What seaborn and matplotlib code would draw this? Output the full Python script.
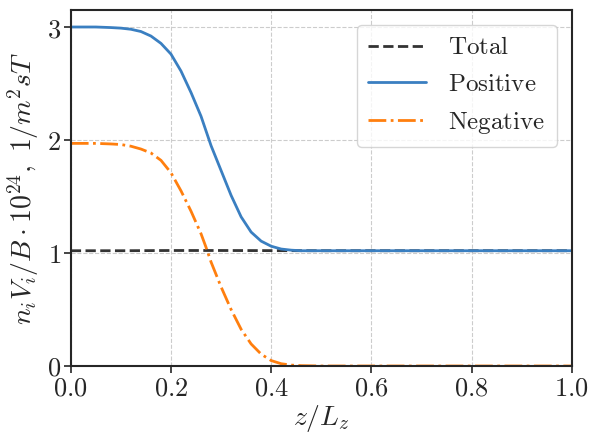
import matplotlib
matplotlib.use("Agg")
import matplotlib.pyplot as plt
import seaborn as sns
import pandas as pd
from matplotlib.ticker import FuncFormatter

# ---- data ----
x_total = [0.0, 0.1, 0.2, 0.3, 0.4, 0.5, 0.6, 0.7, 0.8, 0.9, 1.0]
total = [1.02, 1.02, 1.022, 1.022, 1.021, 1.02, 1.02, 1.02, 1.02, 1.02, 1.02]

x_pos = [0.00, 0.05, 0.08, 0.10, 0.12, 0.14, 0.16, 0.18, 0.20, 0.22, 0.24,
         0.26, 0.27, 0.28, 0.29, 0.30, 0.32, 0.34, 0.36, 0.38, 0.40, 0.42,
         0.44, 0.46, 0.50, 0.60, 0.70, 0.80, 0.90, 1.00]
positive = [3.00, 3.00, 2.995, 2.99, 2.98, 2.96, 2.92, 2.855, 2.76, 2.61,
            2.42, 2.21, 2.08, 1.95, 1.84, 1.73, 1.51, 1.32, 1.185, 1.105,
            1.06, 1.035, 1.025, 1.02, 1.02, 1.02, 1.02, 1.02, 1.02, 1.02]

x_neg = [0.00, 0.05, 0.08, 0.10, 0.12, 0.14, 0.16, 0.18, 0.20, 0.22, 0.24,
         0.26, 0.27, 0.28, 0.30, 0.32, 0.34, 0.36, 0.38, 0.40, 0.42, 0.44,
         0.46, 0.50, 0.60, 0.70, 0.80, 0.90, 1.00]
negative = [1.97, 1.97, 1.965, 1.96, 1.945, 1.92, 1.885, 1.82, 1.71, 1.55,
            1.37, 1.17, 1.05, 0.92, 0.70, 0.50, 0.325, 0.195, 0.105, 0.048,
            0.02, 0.008, 0.003, 0.0, 0.0, 0.0, 0.0, 0.0, 0.0]

labels = ["Total", "Positive", "Negative"]
x_ticks = [0.0, 0.2, 0.4, 0.6, 0.8, 1.0]
y_ticks = [0, 1, 2, 3]

sns.set_style("whitegrid", {
    "grid.linestyle": "--",
    "grid.color": "#cccccc",
    "axes.edgecolor": "#262626",
    "xtick.bottom": True,
    "ytick.left": True,
})
plt.rcParams["mathtext.fontset"] = "cm"
plt.rcParams["font.family"] = ["DejaVu Serif"]

fig = plt.figure(figsize=(5.9, 4.37), dpi=100)
ax = fig.add_axes([0.120, 0.1625, 0.849, 0.8145])

df_t = pd.DataFrame({"x": x_total, "y": total})
df_p = pd.DataFrame({"x": x_pos, "y": positive})
df_n = pd.DataFrame({"x": x_neg, "y": negative})

sns.lineplot(data=df_t, x="x", y="y", ax=ax, color="#333333", linestyle="--",
             linewidth=2, label=r"$\mathrm{%s}$" % labels[0])
sns.lineplot(data=df_p, x="x", y="y", ax=ax, color="#3a7fc1", linestyle="-",
             linewidth=2, label=r"$\mathrm{%s}$" % labels[1])
sns.lineplot(data=df_n, x="x", y="y", ax=ax, color="#ff7f0e", linestyle="-.",
             linewidth=2, label=r"$\mathrm{%s}$" % labels[2])

ax.set_xlim(0, 1)
ax.set_ylim(0, 3.15)
ax.set_xticks(x_ticks)
ax.set_yticks(y_ticks)
ax.xaxis.set_major_formatter(FuncFormatter(lambda v, p: r"$%.1f$" % v))
ax.yaxis.set_major_formatter(FuncFormatter(lambda v, p: r"$%d$" % v))
ax.tick_params(axis="both", labelsize=19, length=5, width=1.2, color="#262626",
               pad=2)
for s in ax.spines.values():
    s.set_linewidth(1.5)
    s.set_color("#262626")

ax.set_xlabel(r"$z/L_z$", fontsize=20, labelpad=2)
ax.set_ylabel(r"$n_iV_i/B\cdot10^{24},\ 1/m^2sT$", fontsize=20, labelpad=4)

leg = ax.legend(loc="upper right", fontsize=18, frameon=True, fancybox=True,
                borderaxespad=0.6, handlelength=2.3, labelspacing=0.55,
                borderpad=0.45, handletextpad=0.9)
leg.get_frame().set_edgecolor("#cccccc")
leg.get_frame().set_alpha(0.8)

fig.savefig("out.png", dpi=100)
